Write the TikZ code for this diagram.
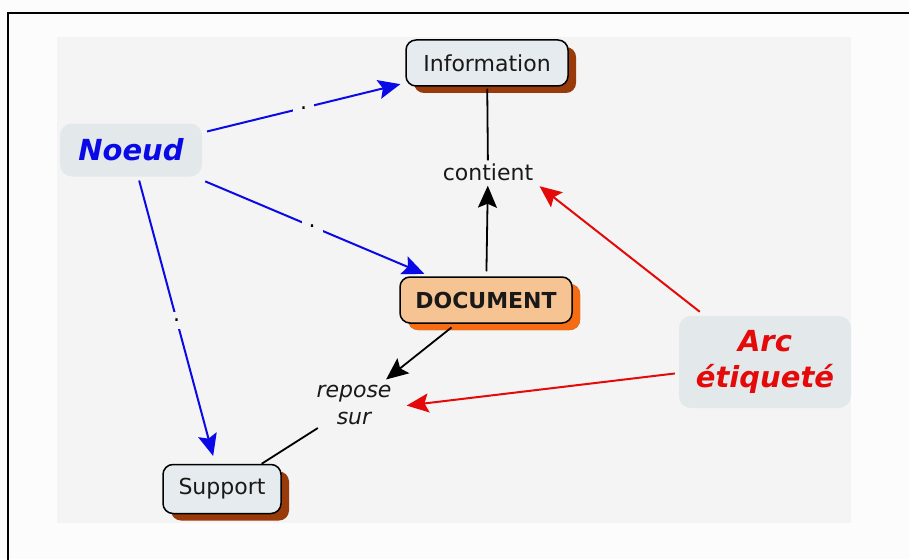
\documentclass[tikz,border=0pt]{standalone}
\usepackage{fontspec}
\setmainfont{DejaVu Sans}
\usetikzlibrary{arrows.meta,shadows}

\definecolor{page}{RGB}{252,252,252}
\definecolor{panel}{RGB}{244,244,244}
\definecolor{boxfill}{RGB}{229,235,238}
\definecolor{tagfill}{RGB}{227,232,235}
\definecolor{docfill}{RGB}{246,196,146}
\definecolor{brownshade}{RGB}{152,58,10}
\definecolor{orangeshade}{RGB}{245,108,18}
\definecolor{linkblue}{RGB}{10,10,230}
\definecolor{linkred}{RGB}{228,10,10}
\definecolor{ink}{RGB}{25,25,25}

\tikzset{
  txt/.style={font=\fontsize{22}{27}\selectfont, text=ink, inner sep=3pt},
  concept/.style={txt, draw=black, line width=1.5pt, rounded corners=10pt,
    fill=boxfill, minimum height=46pt,
    drop shadow={shadow xshift=8pt, shadow yshift=-7pt, fill=brownshade, opacity=1}},
  docbox/.style={concept, fill=docfill, font=\fontsize{22}{27}\selectfont\bfseries,
    drop shadow={shadow xshift=8pt, shadow yshift=-7pt, fill=orangeshade, opacity=1}},
  legend/.style={rounded corners=12pt, fill=tagfill, align=center,
    font=\fontsize{29}{36}\selectfont\bfseries\itshape},
  tip/.style={-{Stealth[length=22pt, width=19pt, inset=4pt]}},
  bluelink/.style={draw=linkblue, line width=2pt, tip, fill=linkblue},
  redlink/.style={draw=linkred, line width=2pt, tip, fill=linkred},
  blacklink/.style={draw=black, line width=1.8pt},
  dot/.style={txt, fill=panel, inner sep=7pt, text=black},
}

\begin{document}
\begin{tikzpicture}[x=1pt, y=-1pt]
\useasboundingbox (0,0) rectangle (909,559);
\clip (0,0) rectangle (909,559);
\fill[page] (0,0) rectangle (909,559);

% outer frame and background panel
\draw[line width=2pt] (8,600) -- (8,13) -- (950,13);
\fill[panel] (57,37) rectangle (851,523);

% concept boxes
\node[concept, minimum width=162pt] (info) at (487,63) {Information};
\node[docbox, minimum width=172pt] (doc) at (486,300) {DOCUMENT};
\node[concept, minimum width=118pt, minimum height=49pt] (support) at (222,489) {Support};

% link words
\node[txt] (contient) at (488,172) {contient};
\node[txt, align=center, font=\fontsize{22}{27}\selectfont\itshape] (repose) at (354,405) {repose\\sur};

% legend boxes
\node[legend, text=linkblue, minimum width=142pt, minimum height=53pt] (noeud) at (131,150) {Noeud};
\node[legend, text=linkred, minimum width=172pt, minimum height=92pt] (arc) at (765,362) {Arc\\étiqueté};

% labelled links
\draw[blacklink, shorten <=2pt] (info) -- (contient);
\draw[blacklink, tip, fill=black, shorten <=5pt, shorten >=2pt] (doc) -- (contient);
\draw[blacklink, tip, fill=black, shorten <=6pt, shorten >=4pt] (doc) -- (repose);
\draw[blacklink] (repose) -- (support);

% "Noeud" pointers
\draw[bluelink, shorten <=5pt, shorten >=5pt] (noeud) -- node[dot, midway] {.} (info);
\draw[bluelink, shorten <=12pt, shorten >=6pt] (noeud) -- node[dot, midway] {.} (doc);
\draw[bluelink, shorten <=4pt, shorten >=8pt] (noeud) -- node[dot, midway] {.} (support);

% "Arc étiqueté" pointers
\draw[redlink, shorten >=4pt] ([xshift=21pt, yshift=4pt]arc.north west) -- (contient.south east);
\draw[redlink, shorten <=4pt, shorten >=12pt] ([yshift=-11pt]arc.west) -- ([yshift=-2pt]repose.east);
\end{tikzpicture}
\end{document}
